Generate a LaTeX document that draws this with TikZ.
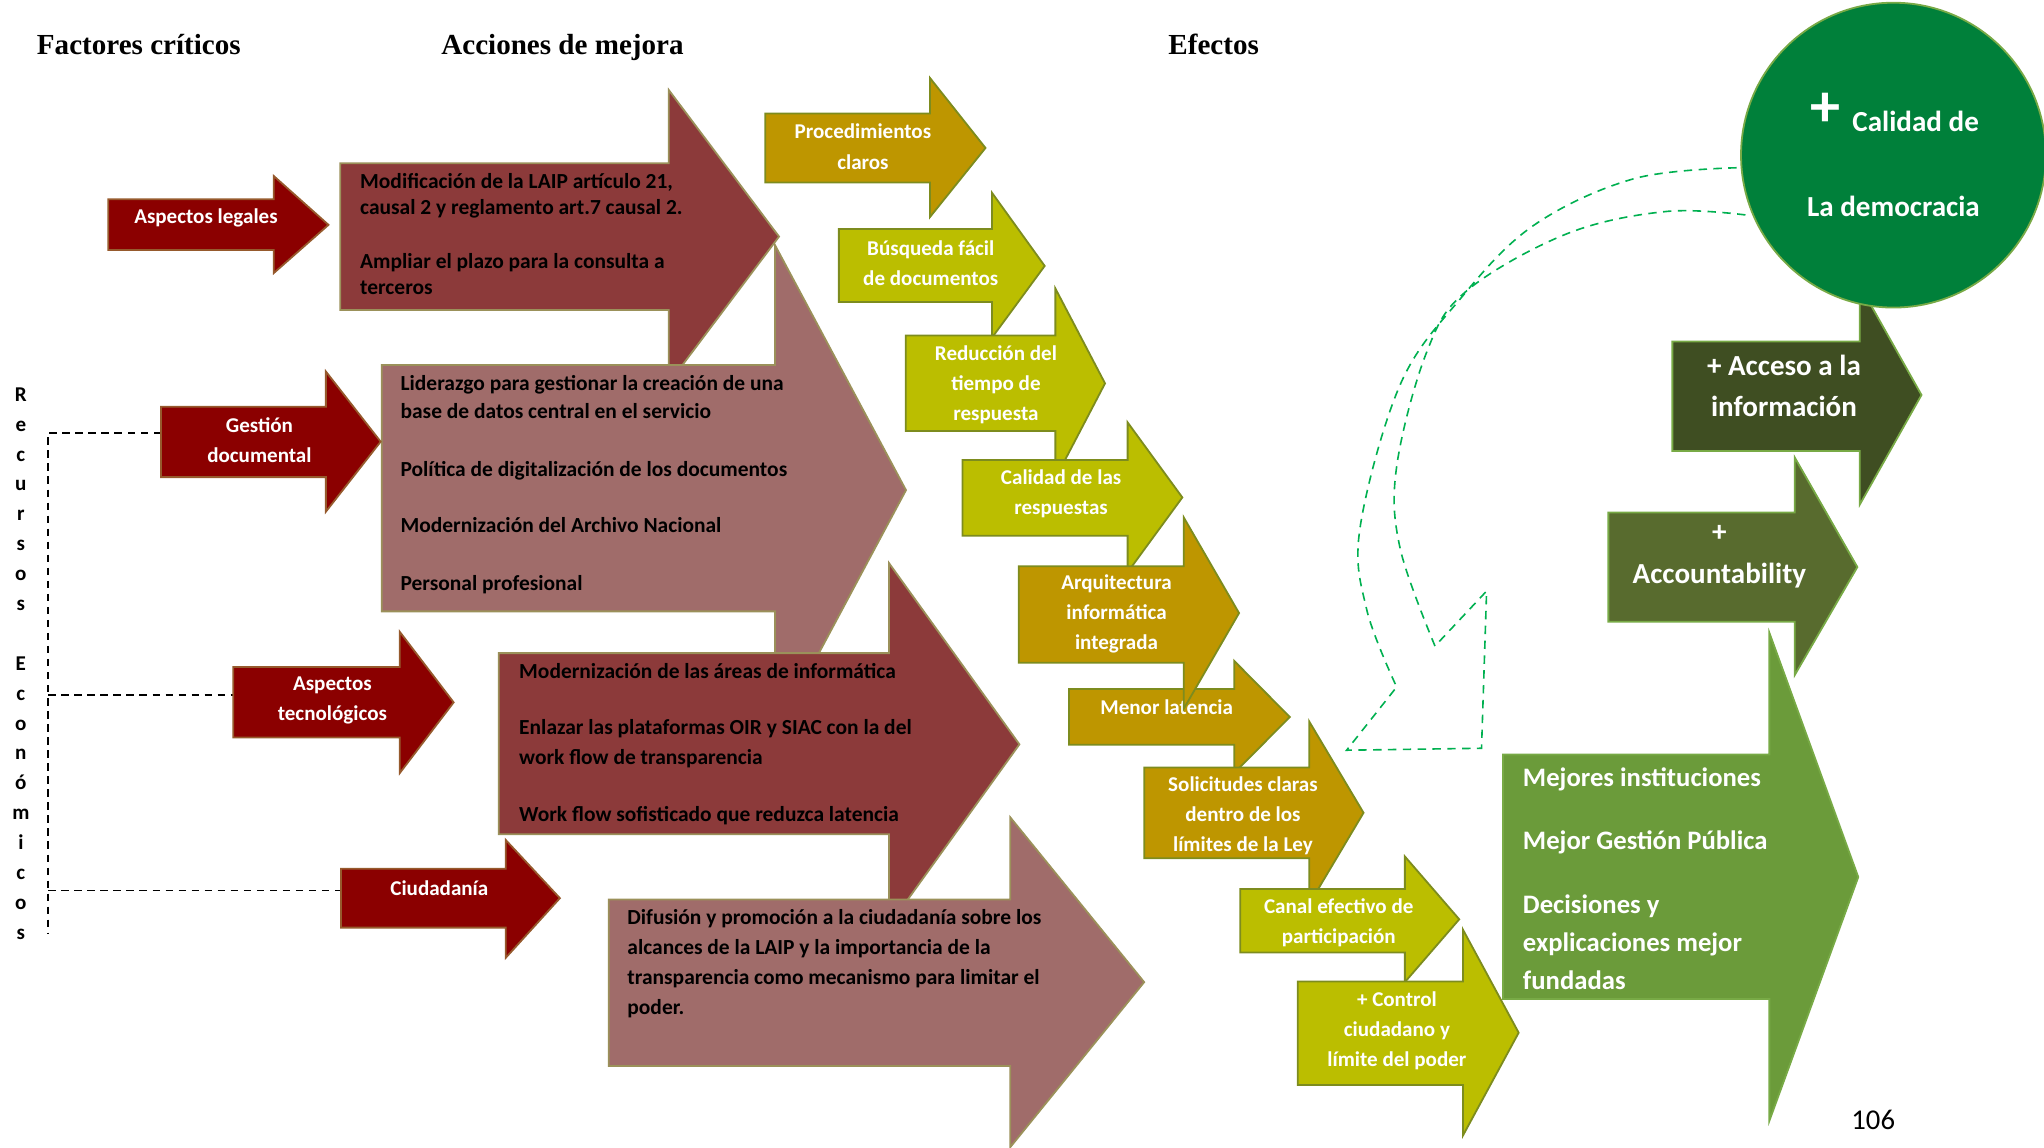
\documentclass[tikz,border=0pt]{standalone}
\usepackage{fontspec}
\setmainfont{Carlito}
\newfontfamily\titlefont{Liberation Serif}
\usepackage{xcolor}
\usepackage{tikz}

\definecolor{factorred}{RGB}{139,0,0}
\definecolor{factoredge}{RGB}{150,90,45}
\definecolor{actiondark}{RGB}{140,58,58}
\definecolor{actionpink}{RGB}{160,108,106}
\definecolor{actionedge}{RGB}{155,145,90}
\definecolor{effgold}{RGB}{190,150,0}
\definecolor{efflime}{RGB}{187,190,0}
\definecolor{effedge}{RGB}{125,140,30}
\definecolor{greendark}{RGB}{63,78,34}
\definecolor{greenmid}{RGB}{88,107,46}
\definecolor{greenlight}{RGB}{107,155,58}
\definecolor{greenedge}{RGB}{120,170,70}
\definecolor{circlegreen}{RGB}{0,128,58}
\definecolor{loopgreen}{RGB}{0,176,80}

% left x, shaft top, shaft bottom, neck x, head top, head bottom, tip x, tip y
\newcommand{\blockarrow}[9]{%
  \draw[#1] (#2,#3) -- (#5,#3) -- (#5,#6) -- (#8,#9) -- (#5,#7) -- (#5,#4) -- (#2,#4) -- cycle;}

\begin{document}
\begin{tikzpicture}[x=0.65pt,y=-0.65pt,
  factor/.style={fill=factorred,draw=factoredge,line width=0.9pt},
  actdark/.style={fill=actiondark,draw=actionedge,line width=0.9pt},
  actpink/.style={fill=actionpink,draw=actionedge,line width=0.9pt},
  gold/.style={fill=effgold,draw=effedge,line width=0.9pt},
  lime/.style={fill=efflime,draw=effedge,line width=0.9pt},
  gdark/.style={fill=greendark,draw=greenedge,line width=0.9pt},
  gmid/.style={fill=greenmid,draw=greenedge,line width=0.9pt},
  glight/.style={fill=greenlight,draw=greenedge,line width=0.9pt},
  title/.style={anchor=base,font=\titlefont\bfseries\fontsize{14.5}{17}\selectfont},
  wlabel/.style={text=white,align=center,inner sep=0pt,font=\bfseries\fontsize{10.5}{15}\selectfont},
  glabel/.style={text=white,align=center,inner sep=0pt,font=\bfseries\fontsize{14.5}{#1}\selectfont},
  body/.style={text=black,align=left,anchor=west,inner sep=0pt,font=\bfseries\fontsize{10.7}{#1}\selectfont},
  recline/.style={dashed,dash pattern=on 3.7pt off 2.8pt,line width=0.75pt},
  loopline/.style={loopgreen,dash pattern=on 4.2pt off 3.2pt,line width=0.8pt}]
  \useasboundingbox (0,0) rectangle (1568,880);

  \node[title] (h-factores) at (106.5,41.5) {Factores críticos};
  \node[title] (h-acciones) at (431.5,41.5) {Acciones de mejora};
  \node[title] (h-efectos) at (931,41.5) {Efectos};

  \node[align=center,inner sep=0pt,font=\bfseries\fontsize{10.5}{14.9}\selectfont] (recursos) at (16,509)
    {R\\e\\c\\u\\r\\s\\o\\s\\[14.9pt]E\\c\\o\\n\\ó\\m\\i\\c\\o\\s};

  \coordinate (rec-top) at (37,332);
  \coordinate (rec-bot) at (37,716);
  \coordinate (gest-in) at (123.5,332);
  \coordinate (tecno-in) at (179,533);
  \coordinate (ciud-in) at (261.6,683);
  \draw[recline] (gest-in) -- (rec-top) -- (rec-bot);
  \draw[recline] (rec-top |- tecno-in) -- (tecno-in);
  \draw[recline] (rec-top |- ciud-in) -- (ciud-in);

  \blockarrow{actdark}{261}{125.3}{237.8}{513}{69}{294}{597.6}{181.5}
  \blockarrow{actpink}{292.8}{280}{469}{594.5}{188}{564}{695}{376}
  \blockarrow{actdark}{382.6}{501}{640}{682}{432}{710}{782}{571}
  \blockarrow{actpink}{467}{690}{817.8}{775}{627}{880}{877.7}{753.4}

  \node[body=13pt] (t-laip) at (276,179.5)
    {Modificación de la LAIP artículo 21,\\causal 2 y reglamento art.7 causal 2.\\[13.6pt]Ampliar el plazo para la consulta a\\terceros};
  \node[body=14.3pt] (t-gestion) at (307,371.5)
    {Liderazgo para gestionar la creación de una\\base de datos central en el servicio\\[14.3pt]Política de digitalización de los documentos\\[14pt]Modernización del Archivo Nacional\\[14.3pt]Personal profesional};
  \node[body=14.8pt] (t-informatica) at (398,571)
    {Modernización de las áreas de informática\\[13.2pt]Enlazar las plataformas OIR y SIAC con la del\\work flow de transparencia\\[13.8pt]Work flow sofisticado que reduzca latencia};
  \node[body=15pt] (t-difusion) at (481,739.5)
    {Difusión y promoción a la ciudadanía sobre los\\alcances de la LAIP y la importancia de la\\transparencia como mecanismo para limitar el\\poder.};

  \blockarrow{factor}{83}{152.9}{191.8}{210}{135}{209.5}{252}{172.5}
  \blockarrow{factor}{123.5}{312}{366}{250}{285}{392.5}{292}{338.8}
  \blockarrow{factor}{179}{511.7}{565.8}{306.7}{484.7}{593}{348}{538.8}
  \blockarrow{factor}{261.6}{666.4}{711.6}{388}{644.4}{734.7}{429.5}{689}
  \node[wlabel] (f-legal) at (158,167) {Aspectos legales};
  \node[wlabel] (f-gestion) at (199,337.5) {Gestión\\documental};
  \node[wlabel] (f-tecno) at (255,537.5) {Aspectos\\tecnológicos};
  \node[wlabel] (f-ciudad) at (337,681) {Ciudadanía};

  \blockarrow{gold}{587}{87}{140}{713.4}{59.8}{166.5}{756}{113.5}
  \node[wlabel] (e-proc) at (662,112.5) {Procedimientos\\claros};
  \blockarrow{lime}{643.5}{175.7}{231.7}{761}{147.9}{259}{801.4}{204}
  \node[wlabel] (e-busq) at (714,202) {Búsqueda fácil\\de documentos};
  \blockarrow{lime}{694.8}{257.4}{330.6}{809.6}{221.3}{367}{847.7}{294.1}
  \node[wlabel] (e-tiempo) at (764,295) {Reducción del\\tiempo de\\respuesta};
  \blockarrow{lime}{738.3}{352.9}{411}{865}{324}{439}{907}{381.6}
  \node[wlabel] (e-calidad) at (814,379) {Calidad de las\\respuestas};
  \blockarrow{gold}{820}{528.5}{571.3}{946.8}{507}{593}{989.4}{550}
  \node[wlabel] (e-latencia) at (895,542.7) {Menor latencia};
  \blockarrow{gold}{781.5}{434.3}{508.4}{908}{396.8}{543.8}{950.5}{470.3}
  \node[wlabel] (e-arq) at (856.5,471) {Arquitectura\\informática\\integrada};
  \blockarrow{gold}{877.8}{588.8}{658.3}{1004.3}{553.4}{693.6}{1046}{623.5}
  \node[wlabel] (e-solic) at (953.5,625.7) {Solicitudes claras\\dentro de los\\límites de la Ley};
  \blockarrow{lime}{951.4}{681.9}{730.6}{1077.7}{657}{753.4}{1119.4}{705.2}
  \node[wlabel] (e-canal) at (1027,707.6) {Canal efectivo de\\participación};
  \blockarrow{lime}{995.5}{752.9}{832.3}{1122.3}{713.2}{871}{1165}{792.2}
  \node[wlabel] (e-control) at (1071.6,790.8) {+ Control\\ciudadano y\\límite del poder};

  \blockarrow{glight}{1153}{578.8}{766.4}{1357.3}{485.4}{859.8}{1425.5}{672.8}
  \node[text=white,align=left,anchor=west,inner sep=0pt,font=\bfseries\fontsize{13.3}{18.9}\selectfont] (g-mejores) at (1168,674)
    {Mejores instituciones\\[13pt]Mejor Gestión Pública\\[13pt]Decisiones y\\explicaciones mejor\\fundadas};
  \blockarrow{gmid}{1233.8}{393.2}{477}{1376.8}{351}{517.8}{1424.8}{435}
  \node[glabel=21pt] (g-account) at (1319,427) {+\\Accountability};
  \blockarrow{gdark}{1282.9}{262}{345.9}{1426.7}{219}{387}{1474}{303}
  \node[glabel=20.5pt] (g-acceso) at (1368.5,296) {+ Acceso a la\\información};

  \node[circle,minimum size=152pt,inner sep=0pt,fill=circlegreen,draw=greenedge,line width=0.9pt] (demo) at (1452.5,119) {};
  \node[text=white,inner sep=0pt,font=\bfseries\fontsize{30}{30}\selectfont] (demo-plus) at (1400,84.4) {+};
  \node[text=white,anchor=west,inner sep=0pt,font=\bfseries\fontsize{14.5}{17}\selectfont] (demo-cal) at (1420.7,93.3) {Calidad de};
  \node[text=white,inner sep=0pt,font=\bfseries\fontsize{14.5}{17}\selectfont] (demo-dem) at (1452.5,158.5) {La democracia};

  \coordinate (loop-out) at (1332.2,128.7);
  \coordinate (loop-in) at (1342.4,165.3);
  \coordinate (loop-tip) at (1033,575.5);
  \draw[loopline] plot[smooth,tension=0.6] coordinates {(loop-out) (1253,137.2) (1176.2,173.1) (1120,229.5) (1074,295.3) (1043.3,404.9) (1048.4,467.5) (1071.4,527)}
    -- (loop-tip) -- (1136.5,574) -- (1140.4,453.4) -- (1100.8,495.6)
    plot[smooth,tension=0.6] coordinates {(1100.8,495.6) (1074,420.4) (1071.4,357.9) (1094.4,270.2) (1125,223.2) (1201.8,179.4) (1278.5,162.2) (loop-in)};

  \node[inner sep=0pt,font=\fontsize{14.3}{17}\selectfont] (pagina) at (1437,859) {106};
\end{tikzpicture}
\end{document}
